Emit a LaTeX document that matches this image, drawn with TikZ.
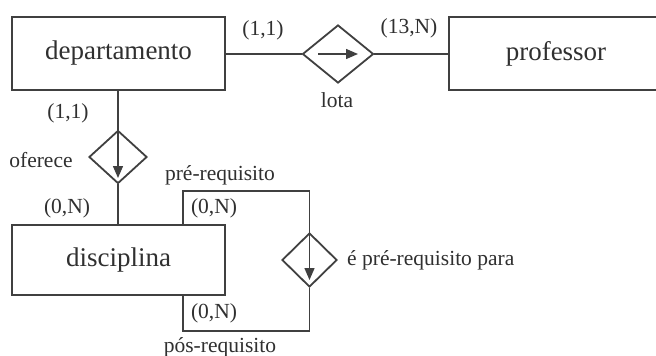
\documentclass[tikz,border=0pt]{standalone}
\usepackage{fontspec}
\setmainfont{Liberation Serif}
\usetikzlibrary{shapes.geometric,arrows.meta}
\definecolor{ink}{HTML}{303030}
\definecolor{edge}{HTML}{404040}
\tikzset{
  entity/.style={draw=edge,line width=1.8pt,rectangle,minimum width=213pt,inner sep=0pt,font=\fontsize{27}{30}\selectfont,text=ink},
  rel/.style={draw=edge,line width=1.8pt,diamond,inner sep=0pt},
  conn/.style={draw=edge,line width=1.8pt},
  dirarrow/.style={draw=edge,line width=1.4pt,-{Triangle[length=12pt,width=10pt]}},
  lbl/.style={inner sep=0pt,font=\fontsize{21.5}{24}\selectfont,text=ink}
}
\begin{document}
\begin{tikzpicture}[x=1pt,y=-1pt]
\useasboundingbox[fill=white] (0,0) rectangle (656,356);
% entities
\node[entity,minimum height=73pt] (dep) at (118.5,53.5) {departamento};
\node[entity,minimum height=73pt] (prof) at (555.5,53.5) {};
\node[lbl,font=\fontsize{27}{30}\selectfont] (proftxt) at (556,53.5) {professor};
\node[entity,minimum height=70pt] (disc) at (118.5,260) {disciplina};
% relationships
\node[rel,minimum width=71pt,minimum height=58pt] (lota) at (338,54) {};
\node[rel,minimum width=58pt,minimum height=53pt] (ofer) at (118,157) {};
\node[rel,minimum width=55pt,minimum height=54pt] (pre) at (309.5,260) {};
% connectors
\draw[conn] (dep.east |- lota.west) -- (lota.west);
\draw[conn] (lota.east) -- (lota.east -| prof.west);
\draw[conn] (dep.south -| ofer.north) -- (ofer.north);
\draw[conn] (ofer.south) -- (ofer.south |- disc.north);
\coordinate (t0) at (183,225);
\coordinate (t1) at (183,191);
\coordinate (t2) at (309.5,191);
\coordinate (b0) at (183,295);
\coordinate (b1) at (183,331);
\coordinate (b2) at (309.5,331);
\draw[conn] (t0) -- (t1) -- (t2) -- (pre.north);
\draw[conn] (pre.south) -- (b2) -- (b1) -- (b0);
% direction arrows
\coordinate (la0) at (318,54);
\coordinate (la1) at (358,54);
\draw[dirarrow] (la0) -- (la1);
\coordinate (oa1) at (118,178);
\draw[dirarrow] (ofer.north) -- (oa1);
\coordinate (pa1) at (309.5,280);
\draw[dirarrow] (pre.north) -- (pa1);
% labels
\node[lbl] (c1) at (263,30) {(1,1)};
\node[lbl] (c2) at (409,28) {(13,N)};
\node[lbl] (nlota) at (337,100) {lota};
\node[lbl] (c3) at (68,113) {(1,1)};
\node[lbl] (nofer) at (41,160) {oferece};
\node[lbl] (npre) at (220,175) {pré-requisito};
\node[lbl] (c4) at (67,208) {(0,N)};
\node[lbl] (c5) at (214,208) {(0,N)};
\node[lbl] (c6) at (214,313) {(0,N)};
\node[lbl] (npos) at (220,347) {pós-requisito};
\node[lbl,anchor=west] (nepre) at (347,260) {é pré-requisito para};
\end{tikzpicture}
\end{document}
